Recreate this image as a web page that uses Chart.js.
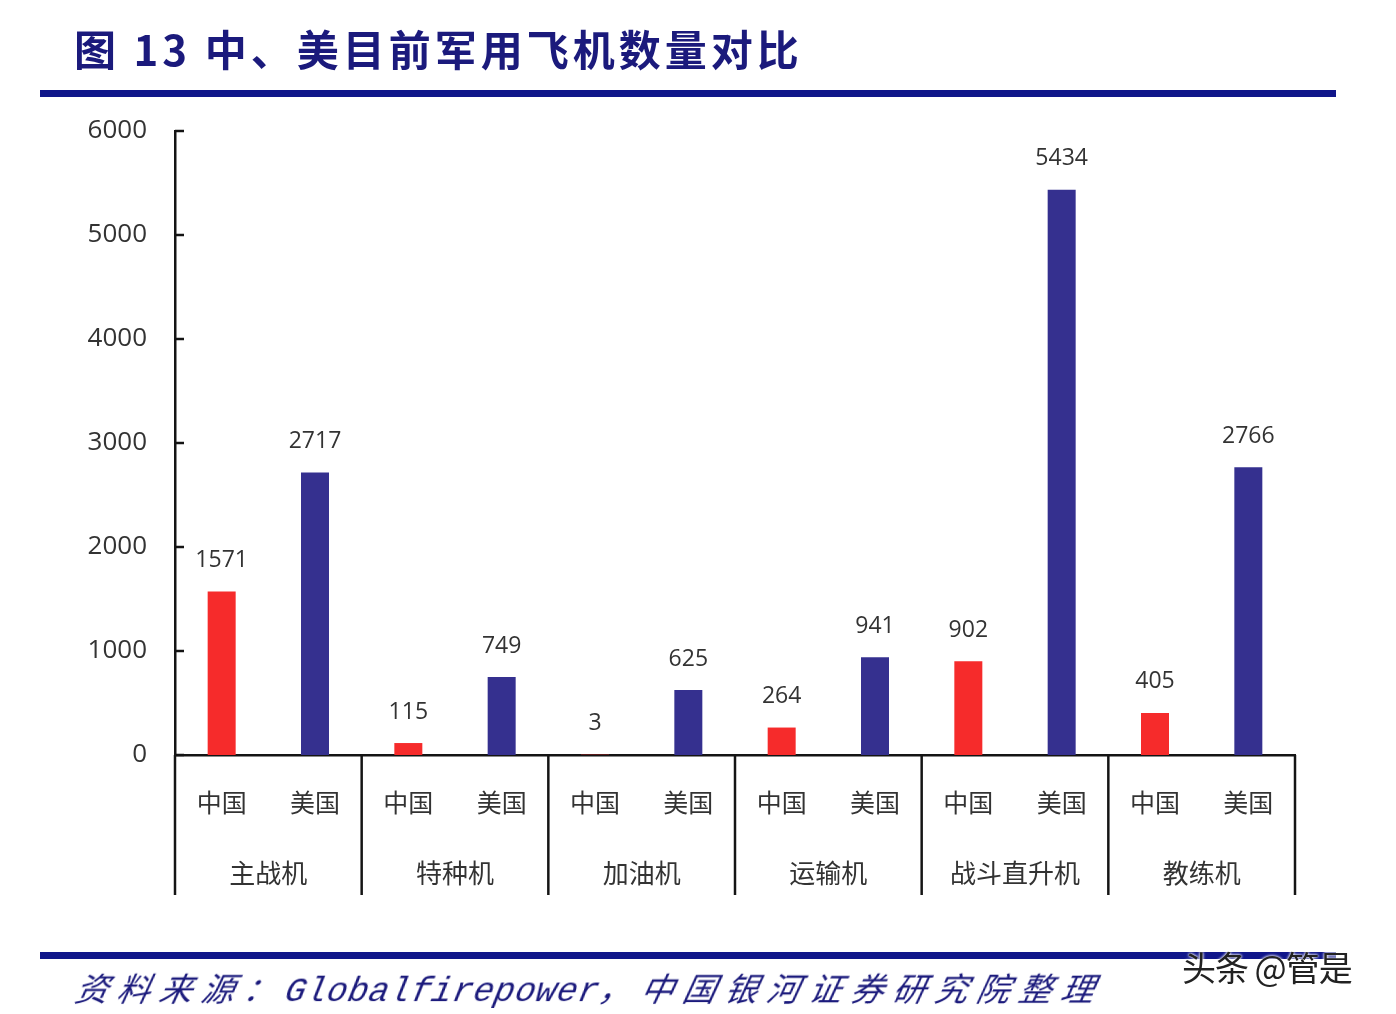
<!DOCTYPE html>
<html>
<head>
<meta charset="utf-8">
<script src="https://cdn.jsdelivr.net/npm/chart.js@4.4.1/dist/chart.umd.min.js"></script>
<style>
  html, body { margin: 0; padding: 0; background: #fff; }
  #wrap { position: relative; width: 1396px; height: 1014px; overflow: hidden; }
  #chartBox { position: absolute; left: 0; top: 0; width: 1396px; height: 1014px; }
  .title { position: absolute; left: 74px; top: 18px; font-family: "Noto Sans CJK SC"; font-weight: 700; font-size: 42px; letter-spacing: 4px; color: #1b1a7c; white-space: nowrap; line-height: 60px; }
  .rule { position: absolute; left: 40px; width: 1296px; height: 7px; background: #10168a; }
  .src { position: absolute; left: 76px; top: 962px; font-family: "Noto Sans CJK SC"; font-style: italic; font-size: 33px; color: #1b1a7c; letter-spacing: 9px; white-space: nowrap; line-height: 50px; transform: skewX(-12deg); }
  .src .lat { font-family: "Liberation Mono"; letter-spacing: 0.5px; font-size: 34px; }
  .wm { position: absolute; left: 1182px; top: 942px; font-family: "Noto Sans CJK SC"; font-size: 34px; color: #222; white-space: nowrap; text-shadow: 0 0 3px #fff, 0 0 3px #fff; line-height: 50px; letter-spacing: -1px; }
</style>
</head>
<body>
<div id="wrap">
  <div id="chartBox"><canvas id="c"></canvas></div>
  <div class="title">图 13 中、美目前军用飞机数量对比</div>
  <div class="rule" style="top:90px"></div>
  <div class="rule" style="top:952px"></div>
  <div class="src">资料来源：<span class="lat">Globalfirepower</span>，中国银河证券研究院整理</div>
  <div class="wm">头条 @管是</div>
</div>
<script>
const groups = ['主战机', '特种机', '加油机', '运输机', '战斗直升机', '教练机'];
const countries = ['中国', '美国'];
const china = [1571, 115, 3, 264, 902, 405];
const usa = [2717, 749, 625, 941, 5434, 2766];
const yTicks = [0, 1000, 2000, 3000, 4000, 5000, 6000];

const red = '#f62b2b';
const blue = '#35308f';

// 12 slots: China / USA alternating in each group
const labels = [];
const values = [];
const colors = [];
groups.forEach((g, i) => {
    labels.push(countries[0], countries[1]);
    values.push(china[i], usa[i]);
    colors.push(red, blue);
});

const axisColor = '#141414';
const textColor = '#333';

const extras = {
    id: 'extras',
    afterDraw(chart) {
        const ctx = chart.ctx;
        const x = chart.scales.x;
        const y = chart.scales.y;
        const area = chart.chartArea;
        ctx.save();
        ctx.strokeStyle = axisColor;
        ctx.lineWidth = 2.5;

        // inward tick marks on y axis
        yTicks.forEach(v => {
            const py = y.getPixelForValue(v);
            ctx.beginPath();
            ctx.moveTo(area.left, py);
            ctx.lineTo(area.left + 9, py);
            ctx.stroke();
        });

        // group separators under the axis
        const bottom = area.bottom + 140;
        const edges = [area.left];
        for (let i = 1; i < groups.length; i++) {
            edges.push((x.getPixelForValue(2 * i - 1) + x.getPixelForValue(2 * i)) / 2);
        }
        edges.push(area.right);
        edges.forEach(px => {
            ctx.beginPath();
            ctx.moveTo(px, area.bottom);
            ctx.lineTo(px, bottom);
            ctx.stroke();
        });

        // value labels above bars
        ctx.fillStyle = textColor;
        ctx.font = '23px "Open Sans"';
        ctx.textAlign = 'center';
        ctx.textBaseline = 'middle';
        chart.getDatasetMeta(0).data.forEach((bar, i) => {
            ctx.fillText(values[i], bar.x, bar.y - 31);
        });
        ctx.restore();
    }
};

new Chart(document.getElementById('c'), {
    type: 'bar',
    data: {
        labels: labels,
        datasets: [{
            data: values,
            backgroundColor: colors,
            barPercentage: 0.3,
            categoryPercentage: 1,
            xAxisID: 'x'
        }]
    },
    options: {
        responsive: true,
        maintainAspectRatio: false,
        animation: false,
        layout: { padding: { left: 0, right: 101, top: 131, bottom: 119 } },
        plugins: { legend: { display: false }, tooltip: { enabled: false } },
        scales: {
            y: {
                min: 0,
                max: 6000,
                afterFit: s => { s.width = 175; },
                afterBuildTicks: s => { s.ticks = yTicks.map(v => ({ value: v })); },
                grid: { display: false, drawTicks: false },
                border: { display: true, color: axisColor, width: 2.5 },
                ticks: { padding: 28, color: textColor, font: { family: 'Open Sans', size: 26 }, callback: v => String(v) }
            },
            x: {
                position: 'bottom',
                afterFit: s => { s.height = 70; },
                grid: { display: false, drawTicks: false },
                border: { display: true, color: axisColor, width: 2.5 },
                ticks: { padding: 32, color: textColor, maxRotation: 0, autoSkip: false, font: { family: 'Noto Sans CJK SC', size: 25 } }
            },
            x2: {
                type: 'category',
                labels: groups,
                position: 'bottom',
                offset: true,
                afterFit: s => { s.height = 70; },
                grid: { display: false, drawTicks: false },
                border: { display: false },
                ticks: { padding: 33, color: textColor, maxRotation: 0, autoSkip: false, font: { family: 'Noto Sans CJK SC', size: 26 } }
            }
        }
    },
    plugins: [extras]
});
</script>
</body>
</html>
